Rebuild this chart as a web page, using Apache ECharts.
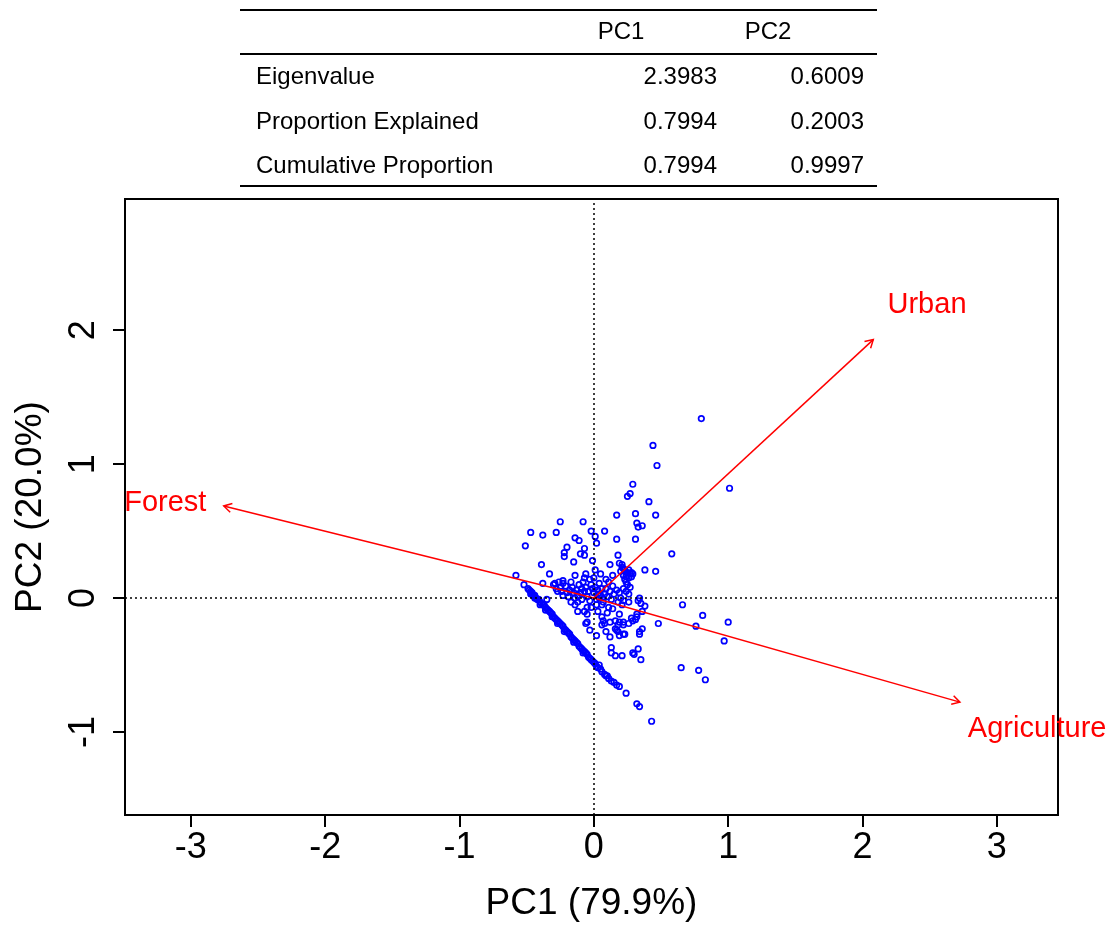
<!DOCTYPE html>
<html><head><meta charset="utf-8">
<script src="https://cdn.jsdelivr.net/npm/echarts@6/dist/echarts.min.js"></script>
<style>html,body{margin:0;padding:0;background:#fff}#c{width:1113px;height:927px}</style>
</head><body><div id="c"></div>
<script>
const FONT = '"Liberation Sans", Arial, Helvetica, sans-serif';

const xTicks = [-3, -2, -1, 0, 1, 2, 3];
const yTicks = [-1, 0, 1, 2];
const xTitle = 'PC1 (79.9%)';
const yTitle = 'PC2 (20.0%)';

const loadingNames = ['Urban', 'Forest', 'Agriculture'];
const loadingPC1 = [2.08, -2.755, 2.725];
const loadingPC2 = [1.93, 0.688, -0.777];
const labelPC1 = [2.48, -3.19, 3.30];
const labelPC2 = [2.19, 0.71, -0.98];

const tableHeaders = ['PC1', 'PC2'];
const tableRowNames = ['Eigenvalue', 'Proportion Explained', 'Cumulative Proportion'];
const tablePC1 = ['2.3983', '0.7994', '0.7994'];
const tablePC2 = ['0.6009', '0.2003', '0.9997'];

// site scores [PC1, PC2]
const scoresOuter = [
 [0.80,1.34],[0.44,1.14],[0.47,0.99],[1.01,0.82],[0.29,0.85],[0.27,0.78],[0.25,0.76],[0.41,0.72],
 [0.17,0.62],[0.31,0.63],[0.46,0.62],[0.32,0.56],[0.33,0.53],[0.36,0.54],[0.17,0.44],[0.31,0.44],[0.58,0.33],
 [-0.25,0.57],[-0.08,0.57],[-0.47,0.49],[-0.38,0.47],[-0.28,0.49],[-0.51,0.39],[-0.14,0.45],[-0.11,0.43],
 [-0.02,0.50],[0.01,0.46],[0.02,0.41],[0.08,0.50],[-0.20,0.38],[-0.22,0.34],[-0.22,0.31],[-0.07,0.37],
 [-0.10,0.33],[-0.07,0.32],[-0.15,0.27],[-0.01,0.28],[-0.39,0.25],[-0.33,0.18],[0.12,0.25],[0.18,0.32],
 [0.38,0.21],[0.46,0.20],[0.01,0.21],[-0.06,0.18],[0.05,0.18],[-0.14,0.17],[0.14,0.17],[-0.58,0.17],[-0.52,0.10]
];
const scoresBlob = [
 [0.19,0.26],[0.21,0.23],[0.22,0.22],[0.23,0.21],[0.24,0.19],[0.25,0.19],[0.27,0.18],[0.28,0.19],
 [0.22,0.17],[0.23,0.14],[0.24,0.12],[0.25,0.10],[0.27,0.08],[0.28,0.16],[0.29,0.18],[0.20,0.20],
 [0.26,0.15],[0.21,0.25],[0.26,0.21],[0.24,0.16]
];
const scoresRight = [
 [0.66,-0.05],[0.81,-0.13],[1.00,-0.18],[0.76,-0.21],[0.97,-0.32],[0.48,-0.19],[0.65,-0.52],[0.78,-0.54],
 [0.83,-0.61],[0.34,0.00],[0.35,-0.04],[0.38,-0.06],[0.36,-0.10],[0.32,-0.14],[0.31,-0.16],[0.29,-0.17],
 [0.36,-0.23],[0.34,-0.25],[0.34,-0.27],[0.33,-0.38],[0.30,-0.42],[0.35,-0.46],[0.32,-0.79],[0.34,-0.81],
 [0.43,-0.92],[0.24,-0.71],[0.26,0.03],[0.22,0.07],[0.33,-0.02]
];
const scoresMiddle = [
 [-0.38,0.11],[-0.29,0.11],[-0.25,0.08],[-0.23,0.11],[-0.27,0.05],[-0.23,0.02],[-0.18,0.06],[-0.14,0.00],
 [-0.17,-0.03],[-0.12,0.02],[-0.09,0.07],[-0.07,0.05],[-0.03,0.14],[-0.01,0.07],[0.03,0.03],[0.04,0.00],
 [0.02,-0.05],[0.09,0.07],[0.17,0.06],[0.18,-0.03],[0.11,-0.07],[0.06,-0.05],[-0.05,-0.07],[-0.07,-0.10],
 [-0.12,-0.10],[-0.05,-0.18],[-0.03,-0.24],[0.02,-0.28],[0.07,-0.17],[0.08,-0.19],[0.06,-0.20],[0.09,-0.25],
 [0.12,-0.29],[0.16,-0.17],[0.18,-0.20],[0.17,-0.24],[0.19,-0.28],[0.23,-0.27],[0.22,-0.18],[0.26,-0.19],
 [0.28,-0.15],[0.32,-0.12],[0.22,-0.02],[0.26,-0.03],[0.13,-0.37],[0.13,-0.41],[0.16,-0.43],[0.21,-0.43],
 [0.29,-0.41],[-0.05,-0.12],[-0.06,-0.19],[0.19,-0.12],[0.19,-0.18],[0.22,-0.20],[0.18,-0.25],[0.22,-0.27],
 [0.12,-0.18],[0.16,-0.23],[-0.35,-0.01]
];
const scoresCentre = [
 [-0.30,0.10],[-0.28,0.07],[-0.26,0.12],[-0.24,0.05],[-0.21,0.09],[-0.20,0.04],[-0.19,0.01],[-0.16,0.08],
 [-0.15,0.04],[-0.13,0.06],[-0.12,-0.03],[-0.11,0.10],[-0.10,0.04],[-0.09,-0.01],[-0.08,0.12],[-0.06,0.08],
 [-0.05,0.01],[-0.04,0.05],[-0.03,-0.02],[-0.02,0.10],[0.00,0.04],[0.01,0.08],[0.02,-0.01],[0.03,0.06],
 [0.04,0.11],[0.05,0.02],[0.06,0.07],[0.07,-0.03],[0.08,0.03],[0.10,0.01],[0.11,0.12],[0.12,0.05],
 [0.13,-0.01],[0.14,0.09],[0.15,0.03],[0.19,0.04],[0.20,0.00],[0.21,-0.05],[0.24,0.05],[-0.17,0.12],
 [-0.23,0.13],[-0.07,0.15],[0.00,0.15],[0.09,0.14],[-0.14,-0.05],[-0.02,-0.07],[0.03,-0.10],[0.10,-0.11],
 [0.14,-0.08],[0.06,-0.14]
];
const scoresBand = [
 [-0.49,0.07],[-0.48,0.06],[-0.47,0.05],[-0.46,0.04],[-0.46,0.03],[-0.45,0.02],[-0.44,0.02],[-0.43,0.00],
 [-0.42,-0.01],[-0.41,-0.01],[-0.40,-0.03],[-0.39,-0.04],[-0.38,-0.05],[-0.37,-0.05],[-0.36,-0.07],[-0.35,-0.08],
 [-0.34,-0.09],[-0.33,-0.10],[-0.32,-0.11],[-0.31,-0.12],[-0.30,-0.14],[-0.29,-0.15],[-0.28,-0.16],[-0.27,-0.17],
 [-0.26,-0.18],[-0.25,-0.19],[-0.24,-0.20],[-0.23,-0.21],[-0.22,-0.23],[-0.21,-0.24],[-0.20,-0.25],[-0.19,-0.26],
 [-0.18,-0.27],[-0.17,-0.29],[-0.16,-0.30],[-0.15,-0.31],[-0.14,-0.32],[-0.13,-0.33],[-0.12,-0.34],[-0.11,-0.36],
 [-0.10,-0.37],[-0.09,-0.38],[-0.08,-0.39],[-0.07,-0.40],[-0.06,-0.41],[-0.05,-0.42],[-0.04,-0.44],[-0.03,-0.45],
 [-0.02,-0.46],[-0.01,-0.47],[0.00,-0.48],[0.01,-0.49],[0.02,-0.51],[0.03,-0.52],[0.05,-0.53],[0.06,-0.55],
 [0.08,-0.57],[0.09,-0.58],[0.11,-0.60],[0.13,-0.62],[0.15,-0.63],[0.17,-0.65],[0.19,-0.66],
 [-0.47,0.03],[-0.44,0.00],[-0.40,-0.05],[-0.36,-0.09],[-0.31,-0.14],[-0.27,-0.19],[-0.22,-0.25],[-0.15,-0.33],
 [-0.08,-0.41],[0.04,-0.50],[0.10,-0.58]
];

const scores = [].concat(scoresOuter, scoresBlob, scoresRight, scoresMiddle, scoresCentre, scoresBand);
const loadings = loadingNames.map((n, i) => [loadingPC1[i], loadingPC2[i], labelPC1[i], labelPC2[i]]);

// table graphics
const tbl = { left: 240, right: 877, lines: [10, 54, 186], headY: 32, headX: [621, 768],
  rowY: [77, 122, 166], nameX: 256, valX: [717, 864] };
const tStyle = { font: '24px ' + FONT, fill: '#000', verticalAlign: 'middle' };
const graphics = [];
tbl.lines.forEach(y => graphics.push({ type: 'line', shape: { x1: tbl.left, y1: y, x2: tbl.right, y2: y },
  style: { stroke: '#000', lineWidth: 2 } }));
tableHeaders.forEach((h, i) => graphics.push({ type: 'text', x: tbl.headX[i], y: tbl.headY,
  style: Object.assign({ text: h, align: 'center' }, tStyle) }));
tableRowNames.forEach((r, i) => {
  graphics.push({ type: 'text', x: tbl.nameX, y: tbl.rowY[i], style: Object.assign({ text: r, align: 'left' }, tStyle) });
  graphics.push({ type: 'text', x: tbl.valX[0], y: tbl.rowY[i], style: Object.assign({ text: tablePC1[i], align: 'right' }, tStyle) });
  graphics.push({ type: 'text', x: tbl.valX[1], y: tbl.rowY[i], style: Object.assign({ text: tablePC2[i], align: 'right' }, tStyle) });
});

const chart = echarts.init(document.getElementById('c'), null, { renderer: 'canvas' });
chart.setOption({
  animation: false,
  backgroundColor: '#fff',
  graphic: graphics,
  grid: { left: 125, right: 55, top: 199, bottom: 110, show: true, borderColor: '#000', borderWidth: 2,
          backgroundColor: 'transparent' },
  xAxis: {
    type: 'value', min: -3.49, max: 3.455,
    name: xTitle, nameLocation: 'middle', nameGap: 70,
    nameTextStyle: { fontSize: 37, color: '#000', fontFamily: FONT },
    splitLine: { show: false }, axisLine: { show: false, onZero: false },
    axisTick: { show: true, length: 12, customValues: xTicks, lineStyle: { color: '#000', width: 2 } },
    axisLabel: { customValues: xTicks, fontSize: 36, color: '#000', fontFamily: FONT, margin: 15 }
  },
  yAxis: {
    type: 'value', min: -1.62, max: 2.98,
    name: yTitle, nameLocation: 'middle', nameGap: 76, nameRotate: 90,
    nameTextStyle: { fontSize: 37, color: '#000', fontFamily: FONT },
    splitLine: { show: false }, axisLine: { show: false, onZero: false },
    axisTick: { show: true, length: 12, customValues: yTicks, lineStyle: { color: '#000', width: 2 } },
    axisLabel: { customValues: yTicks, rotate: 90, fontSize: 36, color: '#000', fontFamily: FONT, margin: 23 }
  },
  series: [
    {
      type: 'scatter', data: scores, symbol: 'circle', symbolSize: 5.5,
      itemStyle: { color: 'rgba(0,0,0,0)', borderColor: '#0000ff', borderWidth: 1.7, opacity: 1 },
      silent: true, z: 3,
      markLine: {
        silent: true, symbol: ['none', 'none'], label: { show: false },
        lineStyle: { color: '#000', type: [2, 3], width: 1.5 },
        data: [{ xAxis: 0 }, { yAxis: 0 }]
      }
    },
    {
      type: 'custom', coordinateSystem: 'cartesian2d', clip: false, silent: true, z: 4,
      data: loadings,
      renderItem: function (params, api) {
        const o = api.coord([0, 0]);
        const p = api.coord([api.value(0), api.value(1)]);
        const l = api.coord([api.value(2), api.value(3)]);
        const ang = Math.atan2(p[1] - o[1], p[0] - o[0]);
        const h = 9, a = Math.PI / 6;
        const h1 = [p[0] - h * Math.cos(ang - a), p[1] - h * Math.sin(ang - a)];
        const h2 = [p[0] - h * Math.cos(ang + a), p[1] - h * Math.sin(ang + a)];
        return {
          type: 'group',
          children: [
            { type: 'line', shape: { x1: o[0], y1: o[1], x2: p[0], y2: p[1] },
              style: { stroke: '#ff0000', lineWidth: 1.5 } },
            { type: 'polyline', shape: { points: [h1, p, h2] },
              style: { stroke: '#ff0000', lineWidth: 1.5, fill: null } },
            { type: 'text', style: { text: loadingNames[params.dataIndex], x: l[0], y: l[1],
              fill: '#ff0000', font: '29px ' + FONT, align: 'center', verticalAlign: 'middle' } }
          ]
        };
      }
    }
  ]
});
</script>
</body></html>
